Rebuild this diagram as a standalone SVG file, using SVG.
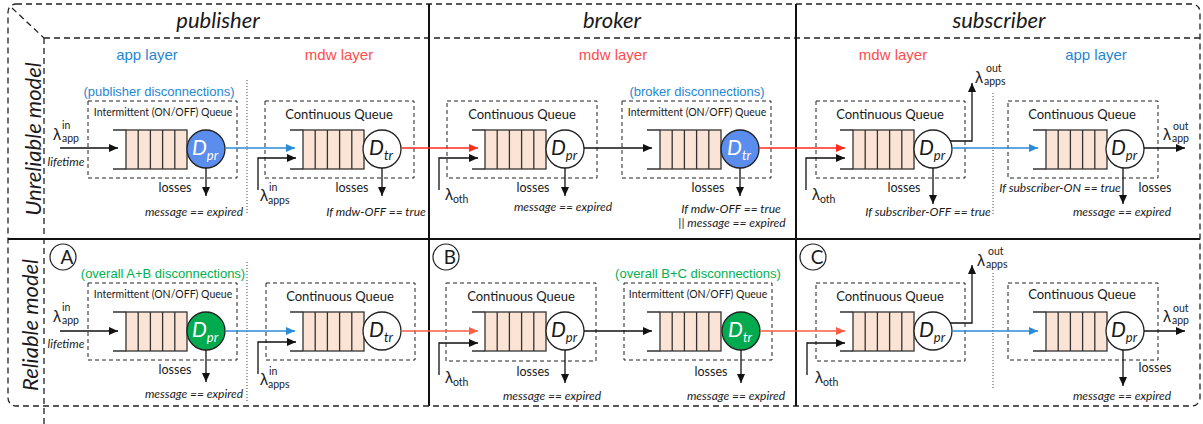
<svg xmlns="http://www.w3.org/2000/svg" width="1203" height="424" viewBox="0 0 1203 424">
<style>
text{font-family:"Lato","Liberation Sans",sans-serif;fill:#1a1a1a}
.hdr{font-size:22px;font-style:italic;text-anchor:middle}
.mdl{font-size:22px;font-style:italic;text-anchor:middle}
.lay{font-family:"Liberation Sans",Arial,sans-serif;font-size:15px;text-anchor:middle}
.dis{font-family:"Liberation Sans",Arial,sans-serif;font-size:13px;text-anchor:middle}
.blue{fill:#1f86d4}
.red{fill:#ff4d4d}
.green{fill:#00b050}
.qi{font-size:10.5px;text-anchor:middle}
.qc{font-size:13px;text-anchor:middle}
.ls{font-size:12.5px;text-anchor:middle}
.cond{font-size:12px;font-style:italic;text-anchor:middle}
.D{font-size:21px;font-style:italic;text-anchor:middle}
.D tspan{font-size:13px}
.w{fill:#fff}
.lam{font-family:"Liberation Sans",sans-serif;font-size:16px}
.ss{font-size:10.5px}
.abc{font-size:19px;text-anchor:middle}
.frame{fill:none;stroke:#222;stroke-width:1.3;stroke-dasharray:6 4}
.solid{stroke:#111;stroke-width:2;fill:none}
.box{fill:none;stroke:#222;stroke-width:1;stroke-dasharray:4 3}
.dot{stroke:#444;stroke-width:1;stroke-dasharray:1 2;fill:none}
.ql{stroke:#333;stroke-width:1.3;fill:none}
.cell{fill:#fbe4d5;stroke:#333;stroke-width:1.3}
.srv{stroke:#222;stroke-width:1.3;fill:#fff}
.sb{fill:#5a8ded}
.sg{fill:#00aa4f}
.lbl{fill:none;stroke:#222;stroke-width:1.2}
.k{fill:none;stroke:#111;stroke-width:1.3}
.b{fill:none;stroke:#2a8bd6;stroke-width:1.5}
.r{fill:none;stroke:#ff2b1c;stroke-width:1.5}
.r2{fill:none;stroke:#ff5e45;stroke-width:1.5}
</style>
<defs>
<marker id="ak" markerUnits="userSpaceOnUse" markerWidth="9" markerHeight="8" refX="9" refY="4" orient="auto"><path d="M0,0L9,4L0,8z" fill="#111"/></marker>
<marker id="ab" markerUnits="userSpaceOnUse" markerWidth="9" markerHeight="8" refX="9" refY="4" orient="auto"><path d="M0,0L9,4L0,8z" fill="#2a8bd6"/></marker>
<marker id="ar" markerUnits="userSpaceOnUse" markerWidth="9" markerHeight="8" refX="9" refY="4" orient="auto"><path d="M0,0L9,4L0,8z" fill="#ff2b1c"/></marker>
<marker id="ar2" markerUnits="userSpaceOnUse" markerWidth="9" markerHeight="8" refX="9" refY="4" orient="auto"><path d="M0,0L9,4L0,8z" fill="#ff5e45"/></marker>
<g id="q"><rect class="cell" x="13" y="0" width="61" height="39"/><path class="ql" d="M0,0H13M0,39H13M25.2,0V39M37.4,0V39M49.6,0V39M61.8,0V39"/></g>
</defs>

<g id="frame">
<rect class="frame" x="8" y="4" width="1192" height="402" rx="8"/>
<path class="frame" d="M12,8L44,38M44,38H1200M44,38V424"/>
<path class="solid" d="M429,4V406M796,4V406M8,239H1200"/>
<path class="dot" d="M247,80V214M247,262V402M993,93V215M993,273V390"/>
<text class="hdr" x="218" y="28">publisher</text>
<text class="hdr" x="612" y="28">broker</text>
<text class="hdr" x="999" y="28">subscriber</text>
<text class="mdl" transform="translate(41,139) rotate(-90)">Unreliable model</text>
<text class="mdl" transform="translate(38,325) rotate(-90)">Reliable model</text>
<text class="lay blue" x="147" y="60">app layer</text>
<text class="lay red" x="339" y="60">mdw layer</text>
<text class="lay red" x="613" y="60">mdw layer</text>
<text class="lay red" x="893" y="60">mdw layer</text>
<text class="lay blue" x="1096" y="60">app layer</text>
</g>

<!-- top row: unreliable model -->
<g id="pub-app-u">
<text class="dis blue" x="159" y="96">(publisher disconnections)</text>
<rect class="box" x="88" y="101" width="149" height="77"/>
<text class="qi" x="163" y="116">Intermittent (ON/OFF) Queue</text>
<use href="#q" x="113" y="130"/>
<circle class="srv sb" cx="206" cy="149" r="19"/>
<text class="D w" x="205" y="155">D<tspan class="w" dy="5">pr</tspan></text>
<text class="ls" x="175" y="192">losses</text>
<text class="cond" x="194" y="216">message == expired</text>
<text class="lam" x="53" y="140">λ</text><text class="ss" x="62" y="129">in</text><text class="ss" x="62" y="142">app</text>
<text class="cond" x="66" y="166">lifetime</text>
</g>
<g id="pub-mdw-u">
<rect class="box" x="265" y="101" width="149" height="77"/>
<text class="qc" x="339" y="119">Continuous Queue</text>
<use href="#q" x="290" y="130"/>
<circle class="srv" cx="382" cy="149" r="19"/>
<text class="D" x="381" y="155">D<tspan dy="5">tr</tspan></text>
<text class="ls" x="352" y="192">losses</text>
<text class="cond" x="376" y="216">If mdw-OFF == true</text>
<text class="lam" x="260" y="201">λ</text><text class="ss" x="269" y="191">in</text><text class="ss" x="268" y="204">apps</text>
</g>
<g id="brk-1-u">
<rect class="box" x="447" y="101" width="150" height="77"/>
<text class="qc" x="522" y="119">Continuous Queue</text>
<use href="#q" x="472" y="130"/>
<circle class="srv" cx="565" cy="149" r="19"/>
<text class="D" x="564" y="155">D<tspan dy="5">pr</tspan></text>
<text class="ls" x="533" y="192">losses</text>
<text class="cond" x="563" y="211">message == expired</text>
<text class="lam" x="445" y="200">λ</text><text class="ss" x="453" y="203">oth</text>
</g>
<g id="brk-2-u">
<text class="dis blue" x="697" y="96">(broker disconnections)</text>
<rect class="box" x="622" y="101" width="149" height="77"/>
<text class="qi" x="697" y="116">Intermittent (ON/OFF) Queue</text>
<use href="#q" x="647" y="130"/>
<circle class="srv sb" cx="740" cy="149" r="19"/>
<text class="D w" x="739" y="155">D<tspan class="w" dy="5">tr</tspan></text>
<text class="ls" x="708" y="192">losses</text>
<text class="cond" x="731" y="213">If mdw-OFF == true</text>
<text class="cond" x="732" y="227">|| message == expired</text>
</g>
<g id="sub-mdw-u">
<rect class="box" x="816" y="101" width="149" height="77"/>
<text class="qc" x="890" y="119">Continuous Queue</text>
<use href="#q" x="840" y="130"/>
<circle class="srv" cx="933" cy="149" r="19"/>
<text class="D" x="932" y="155">D<tspan dy="5">pr</tspan></text>
<text class="ls" x="904" y="192">losses</text>
<text class="cond" x="928" y="216">If subscriber-OFF == true</text>
<text class="lam" x="812" y="200">λ</text><text class="ss" x="820" y="203">oth</text>
<text class="lam" x="975" y="83">λ</text><text class="ss" x="986" y="72">out</text><text class="ss" x="984" y="85">apps</text>
</g>
<g id="sub-app-u">
<rect class="box" x="1008" y="101" width="150" height="77"/>
<text class="qc" x="1082" y="119">Continuous Queue</text>
<use href="#q" x="1033" y="130"/>
<circle class="srv" cx="1125" cy="149" r="19"/>
<text class="D" x="1124" y="155">D<tspan dy="5">pr</tspan></text>
<text class="cond" x="1060" y="192">If subscriber-ON == true</text>
<text class="ls" x="1155" y="192">losses</text>
<text class="cond" x="1122" y="216">message == expired</text>
<text class="lam" x="1163" y="140">λ</text><text class="ss" x="1173" y="130">out</text><text class="ss" x="1172" y="142">app</text>
</g>

<!-- bottom row: reliable model -->
<g id="pub-app-r">
<circle class="lbl" cx="63" cy="257" r="13"/><text class="abc" x="67" y="264">A</text>
<text class="dis green" x="163" y="278">(overall A+B disconnections)</text>
<rect class="box" x="88" y="283" width="149" height="77"/>
<text class="qi" x="163" y="298">Intermittent (ON/OFF) Queue</text>
<use href="#q" x="113" y="312"/>
<circle class="srv sg" cx="206" cy="331" r="19"/>
<text class="D w" x="205" y="337">D<tspan class="w" dy="5">pr</tspan></text>
<text class="ls" x="175" y="374">losses</text>
<text class="cond" x="194" y="398">message == expired</text>
<text class="lam" x="53" y="322">λ</text><text class="ss" x="62" y="311">in</text><text class="ss" x="62" y="324">app</text>
<text class="cond" x="66" y="348">lifetime</text>
</g>
<g id="pub-mdw-r">
<rect class="box" x="266" y="283" width="149" height="77"/>
<text class="qc" x="340" y="301">Continuous Queue</text>
<use href="#q" x="290" y="312"/>
<circle class="srv" cx="382" cy="331" r="19"/>
<text class="D" x="381" y="337">D<tspan dy="5">tr</tspan></text>
<text class="lam" x="260" y="385">λ</text><text class="ss" x="269" y="375">in</text><text class="ss" x="268" y="388">apps</text>
</g>
<g id="brk-1-r">
<circle class="lbl" cx="446" cy="257" r="13"/><text class="abc" x="450" y="264">B</text>
<rect class="box" x="446" y="283" width="150" height="78"/>
<text class="qc" x="521" y="301">Continuous Queue</text>
<use href="#q" x="472" y="312"/>
<circle class="srv" cx="565" cy="331" r="19"/>
<text class="D" x="564" y="337">D<tspan dy="5">pr</tspan></text>
<text class="ls" x="533" y="376">losses</text>
<text class="cond" x="552" y="400">message == expired</text>
<text class="lam" x="445" y="383">λ</text><text class="ss" x="453" y="386">oth</text>
</g>
<g id="brk-2-r">
<text class="dis green" x="698" y="278">(overall B+C disconnections)</text>
<rect class="box" x="624" y="283" width="148" height="77"/>
<text class="qi" x="698" y="298">Intermittent (ON/OFF) Queue</text>
<use href="#q" x="647" y="312"/>
<circle class="srv sg" cx="741" cy="331" r="19"/>
<text class="D w" x="740" y="337">D<tspan class="w" dy="5">tr</tspan></text>
<text class="ls" x="711" y="376">losses</text>
<text class="cond" x="736" y="400">message == expired</text>
</g>
<g id="sub-mdw-r">
<circle class="lbl" cx="813" cy="257" r="13"/><text class="abc" x="817" y="264">C</text>
<rect class="box" x="816" y="283" width="149" height="78"/>
<text class="qc" x="890" y="301">Continuous Queue</text>
<use href="#q" x="840" y="312"/>
<circle class="srv" cx="933" cy="331" r="19"/>
<text class="D" x="932" y="337">D<tspan dy="5">pr</tspan></text>
<text class="lam" x="815" y="383">λ</text><text class="ss" x="823" y="386">oth</text>
<text class="lam" x="977" y="266">λ</text><text class="ss" x="988" y="255">out</text><text class="ss" x="986" y="268">apps</text>
</g>
<g id="sub-app-r">
<rect class="box" x="1008" y="283" width="150" height="77"/>
<text class="qc" x="1082" y="299">Continuous Queue</text>
<use href="#q" x="1033" y="312"/>
<circle class="srv" cx="1125" cy="331" r="19"/>
<text class="D" x="1124" y="337">D<tspan dy="5">pr</tspan></text>
<text class="ls" x="1155" y="372">losses</text>
<text class="cond" x="1122" y="400">message == expired</text>
<text class="lam" x="1163" y="322">λ</text><text class="ss" x="1173" y="312">out</text><text class="ss" x="1172" y="324">app</text>
</g>

<g id="connectors">
<path class="k" marker-end="url(#ak)" d="M60,148H118"/>
<path class="b" marker-end="url(#ab)" d="M225,148H295"/>
<path class="k" marker-end="url(#ak)" d="M258,190V158H296"/>
<path class="k" marker-end="url(#ak)" d="M206,168V196"/>
<path class="k" marker-end="url(#ak)" d="M382,168V196"/>
<path class="r" marker-end="url(#ar)" d="M401,148H478"/>
<path class="k" marker-end="url(#ak)" d="M439,190V158H478"/>
<path class="k" marker-end="url(#ak)" d="M565,168V196"/>
<path class="k" marker-end="url(#ak)" d="M584,148H652"/>
<path class="k" marker-end="url(#ak)" d="M740,168V196"/>
<path class="r" marker-end="url(#ar)" d="M759,148H845"/>
<path class="k" marker-end="url(#ak)" d="M806,190V158H845"/>
<path class="k" marker-end="url(#ak)" d="M933,168V204"/>
<path class="k" marker-end="url(#ak)" d="M950,141H972V83"/>
<path class="b" marker-end="url(#ab)" d="M952,148H1038"/>
<path class="k" marker-end="url(#ak)" d="M1123,168V204"/>
<path class="k" marker-end="url(#ak)" d="M1144,148H1185"/>

<path class="k" marker-end="url(#ak)" d="M60,331H118"/>
<path class="b" marker-end="url(#ab)" d="M225,331H295"/>
<path class="k" marker-end="url(#ak)" d="M258,374V342H296"/>
<path class="k" marker-end="url(#ak)" d="M206,350V382"/>
<path class="r2" marker-end="url(#ar2)" d="M401,331H478"/>
<path class="k" marker-end="url(#ak)" d="M439,375V343H478"/>
<path class="k" marker-end="url(#ak)" d="M565,350V383"/>
<path class="k" marker-end="url(#ak)" d="M584,331H652"/>
<path class="k" marker-end="url(#ak)" d="M741,350V383"/>
<path class="r2" marker-end="url(#ar2)" d="M760,331H845"/>
<path class="k" marker-end="url(#ak)" d="M807,375V343H845"/>
<path class="k" marker-end="url(#ak)" d="M950,323H972V265"/>
<path class="b" marker-end="url(#ab)" d="M952,331H1038"/>
<path class="k" marker-end="url(#ak)" d="M1123,350V386"/>
<path class="k" marker-end="url(#ak)" d="M1144,331H1185"/>
</g>
</svg>
